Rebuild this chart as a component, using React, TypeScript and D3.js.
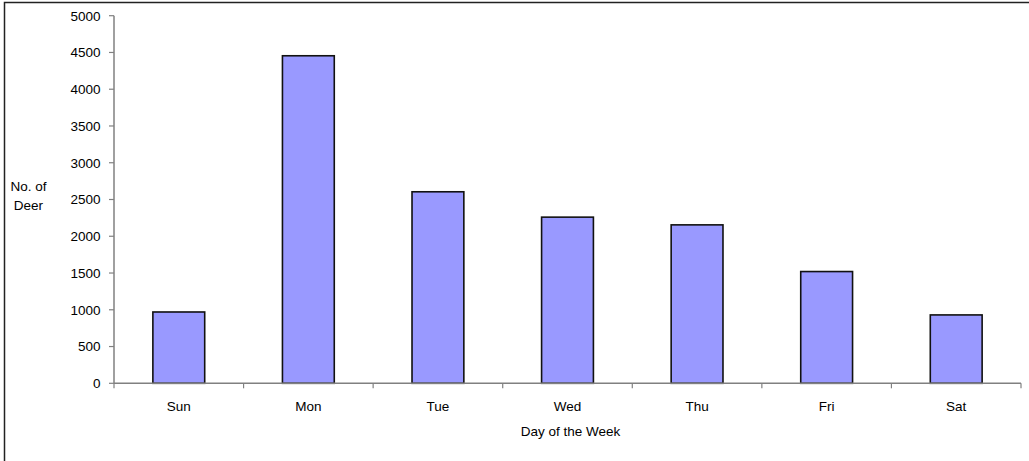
import React from "react";
import * as d3 from "d3";

const days = ["Sun", "Mon", "Tue", "Wed", "Thu", "Fri", "Sat"];
const deerCounts = [970, 4455, 2605, 2260, 2155, 1520, 930];
const yTicks = [0, 500, 1000, 1500, 2000, 2500, 3000, 3500, 4000, 4500, 5000];
const xTitle = "Day of the Week";
const yTitleLines = ["No. of", "Deer"];

const W = 1029;
const H = 461;
const left = 114;
const right = 1021;
const top = 15.7;
const bottom = 383.3;
const font = "Arial, 'Liberation Sans', sans-serif";
const fs = 13.5;

export default function App() {
  const x = d3.scaleBand<string>().domain(days).range([left, right]).paddingInner(0.6).paddingOuter(0.3);
  const y = d3.scaleLinear().domain([0, 5000]).range([bottom, top]);
  const step = (right - left) / days.length;
  const axisColor = "#808080";
  return (
    <div style={{ position: "fixed", left: 0, top: 0, width: W, height: H, background: "#fff" }}>
      <svg width={W} height={H} style={{ display: "block" }}>
        <rect x={0} y={0} width={W} height={H} fill="#fff" />
        <path d={`M4.5,${H + 5} V2.5 H${W + 5}`} fill="none" stroke="#222" strokeWidth={1.5} />
        {days.map((d, i) => (
          <rect
            key={d}
            x={x(d)}
            y={y(deerCounts[i])}
            width={x.bandwidth()}
            height={bottom - y(deerCounts[i])}
            fill="#9999FF"
            stroke="#111"
            strokeWidth={1.6}
          />
        ))}
        <line x1={left} x2={left} y1={top} y2={bottom} stroke={axisColor} strokeWidth={1.5} />
        {yTicks.map((t) => (
          <g key={t}>
            <line x1={left - 5} x2={left} y1={y(t)} y2={y(t)} stroke={axisColor} strokeWidth={1.2} />
            <text x={100.5} y={y(t)} dy="0.36em" textAnchor="end" fontFamily={font} fontSize={fs} fill="#000">
              {t}
            </text>
          </g>
        ))}
        <line x1={left} x2={right} y1={bottom} y2={bottom} stroke={axisColor} strokeWidth={1.5} />
        {days.map((d, i) => (
          <line key={"t" + d} x1={left + (i + 1) * step} x2={left + (i + 1) * step} y1={bottom} y2={bottom + 5} stroke={axisColor} strokeWidth={1.2} />
        ))}
        <line x1={left} x2={left} y1={bottom} y2={bottom + 5} stroke={axisColor} strokeWidth={1.2} />
        {days.map((d) => (
          <text key={"l" + d} x={(x(d) as number) + x.bandwidth() / 2} y={411} textAnchor="middle" fontFamily={font} fontSize={fs} fill="#000">
            {d}
          </text>
        ))}
        <text x={(left + right) / 2 + 3} y={435.5} textAnchor="middle" fontFamily={font} fontSize={fs} fill="#000">
          {xTitle}
        </text>
        {yTitleLines.map((l, i) => (
          <text key={l} x={28.5} y={190.5 + i * 19.5} textAnchor="middle" fontFamily={font} fontSize={fs} fill="#000">
            {l}
          </text>
        ))}
      </svg>
    </div>
  );
}
